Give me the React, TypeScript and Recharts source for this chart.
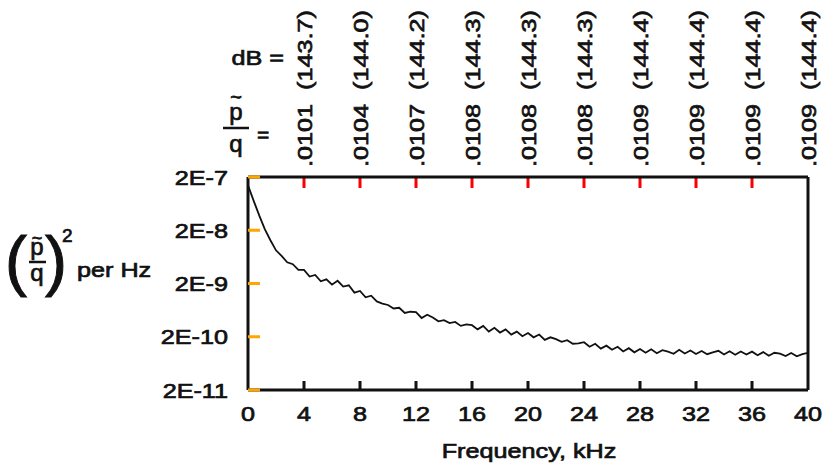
import { LineChart, Line, XAxis, YAxis, ReferenceLine } from 'recharts'

// frequency grid, kHz
const freqKHz = [
  0, 0.4, 0.8, 1.2, 1.6, 2, 2.4, 2.8, 3.2, 3.6,
  4, 4.4, 4.8, 5.2, 5.6, 6, 6.4, 6.8, 7.2, 7.6,
  8, 8.4, 8.8, 9.2, 9.6, 10, 10.4, 10.8, 11.2, 11.6,
  12, 12.4, 12.8, 13.2, 13.6, 14, 14.4, 14.8, 15.2, 15.6,
  16, 16.4, 16.8, 17.2, 17.6, 18, 18.4, 18.8, 19.2, 19.6,
  20, 20.4, 20.8, 21.2, 21.6, 22, 22.4, 22.8, 23.2, 23.6,
  24, 24.4, 24.8, 25.2, 25.6, 26, 26.4, 26.8, 27.2, 27.6,
  28, 28.4, 28.8, 29.2, 29.6, 30, 30.4, 30.8, 31.2, 31.6,
  32, 32.4, 32.8, 33.2, 33.6, 34, 34.4, 34.8, 35.2, 35.6,
  36, 36.4, 36.8, 37.2, 37.6, 38, 38.4, 38.8, 39.2, 39.6,
  40,
]

// (p/q)^2 per Hz
const psd = [
  1.4e-7, 7.2e-8, 3.8e-8, 2.1e-8, 1.3e-8, 8.4e-9, 6.6e-9, 5.0e-9, 4.6e-9, 3.6e-9,
  3.6e-9, 2.7e-9, 2.9e-9, 2.2e-9, 2.4e-9, 1.9e-9, 2.25e-9, 1.75e-9, 1.85e-9, 1.35e-9,
  1.45e-9, 1.1e-9, 1.18e-9, 9.2e-10, 8.4e-10, 7.9e-10, 6.8e-10, 7.0e-10, 5.6e-10, 5.9e-10,
  5.8e-10, 4.5e-10, 5.2e-10, 4.6e-10, 3.9e-10, 4.1e-10, 3.6e-10, 3.8e-10, 3.2e-10, 3.4e-10,
  3.3e-10, 2.75e-10, 3.2e-10, 2.5e-10, 2.95e-10, 2.4e-10, 2.75e-10, 2.2e-10, 2.5e-10, 2.05e-10,
  2.35e-10, 1.95e-10, 2.2e-10, 1.75e-10, 1.95e-10, 1.8e-10, 1.6e-10, 1.72e-10, 1.48e-10, 1.5e-10,
  1.58e-10, 1.3e-10, 1.48e-10, 1.2e-10, 1.36e-10, 1.14e-10, 1.3e-10, 1.06e-10, 1.22e-10, 1.02e-10,
  1.18e-10, 1.0e-10, 1.16e-10, 9.8e-11, 1.12e-10, 1.05e-10, 9.6e-11, 1.14e-10, 9.7e-11, 1.1e-10,
  9.5e-11, 1.08e-10, 9.4e-11, 1.02e-10, 1.09e-10, 9.3e-11, 1.07e-10, 9.2e-11, 1.06e-10, 9.3e-11,
  1.05e-10, 9.0e-11, 1.03e-10, 8.8e-11, 1.0e-10, 9.6e-11, 8.7e-11, 9.9e-11, 8.6e-11, 9.4e-11,
  1.0e-10,
]

const xTicks = [0, 4, 8, 12, 16, 20, 24, 28, 32, 36, 40]
const yTicks = [2e-7, 2e-8, 2e-9, 2e-10, 2e-11]
const yTickLabels = ['2E-7', '2E-8', '2E-9', '2E-10', '2E-11']

// annotations above each 4 kHz tick
const dbLevels = ['143.7', '144.0', '144.2', '144.3', '144.3', '144.3', '144.4', '144.4', '144.4', '144.4']
const pqRatios = ['.0101', '.0104', '.0107', '.0108', '.0108', '.0108', '.0109', '.0109', '.0109', '.0109']

const data = freqKHz.map((f, i) => ({ f, psd: psd[i] }))

const FONT = '"Liberation Sans", Arial, Helvetica, sans-serif'
const INK = '#111'

// the scanned lettering is wider than Arial, so stretch it a bit
function T({ x, y, anchor = 'start', size = 21, rot = 0, sx = 1.2, weight = 0.7, children }: any) {
  return (
    <g transform={`translate(${x},${y}) rotate(${rot}) scale(${sx},1)`}>
      <text
        x={0}
        y={0}
        textAnchor={anchor}
        fontFamily={FONT}
        fontSize={size}
        fill={INK}
        stroke={INK}
        strokeWidth={weight}
      >
        {children}
      </text>
    </g>
  )
}

function BottomTick({ x, payload }: any) {
  return <T x={x} y={421} anchor="middle">{payload.value}</T>
}

function TopTick({ x, index }: any) {
  const k = index - 1
  if (k < 0) return null
  return (
    <g>
      <T x={x + 8} y={90} rot={-90}>({dbLevels[k]})</T>
      <T x={x + 8} y={167} rot={-90}>{pqRatios[k]}</T>
    </g>
  )
}

function LeftTick({ y, payload }: any) {
  const i = yTicks.indexOf(payload.value)
  return <T x={228} y={y + 7.5} anchor="end">{yTickLabels[i]}</T>
}

function XStubs({ x1, y1, y2 }: any) {
  const top = Math.min(y1, y2)
  const bot = Math.max(y1, y2)
  return (
    <g strokeWidth={3}>
      <line x1={x1} x2={x1} y1={top} y2={top + 11} stroke="red" />
      <line x1={x1} x2={x1} y1={bot} y2={bot - 9} stroke={INK} />
    </g>
  )
}

function Labels() {
  return (
    <svg width={825} height={468} style={{ position: 'absolute', left: 0, top: 0, zIndex: 0 }}>
      <T x={284} y={65} anchor="end">dB =</T>
      <T x={236} y={104} anchor="middle" size={20} sx={1}>~</T>
      <T x={236} y={120} anchor="middle" size={24} sx={1}>p</T>
      <line x1={223} x2={249} y1={128} y2={128} stroke={INK} strokeWidth={2.5} />
      <T x={236} y={152} anchor="middle" size={24} sx={1}>q</T>
      <T x={257} y={142} sx={1}>=</T>

      <T x={5} y={283} size={66} sx={1} weight={1}>(</T>
      <T x={37} y={244} anchor="middle" size={18} sx={1}>~</T>
      <T x={37} y={255} anchor="middle" size={24} sx={1}>p</T>
      <line x1={29} x2={46} y1={262} y2={262} stroke={INK} strokeWidth={2.5} />
      <T x={37} y={281} anchor="middle" size={24} sx={1}>q</T>
      <T x={45} y={283} size={66} sx={1} weight={1}>)</T>
      <T x={62} y={242} size={19} sx={1}>2</T>
      <T x={77} y={277}>per Hz</T>

      <T x={529} y={458} anchor="middle">Frequency, kHz</T>
    </svg>
  )
}

export default function App() {
  return (
    <div style={{ position: 'absolute', left: 0, top: 0, width: 825, height: 468, background: '#fff' }}>
      <Labels />
      <div style={{ position: 'absolute', left: 0, top: 0, zIndex: 1 }}>
        <LineChart
          width={825}
          height={468}
          data={data}
          margin={{ top: 176, right: 17, bottom: 77, left: 247 }}
        >
          <XAxis
            dataKey="f"
            type="number"
            domain={[0, 40]}
            ticks={xTicks}
            interval={0}
            height={1}
            tickSize={0}
            tickMargin={0}
            allowDataOverflow
            axisLine={{ stroke: INK, strokeWidth: 3 }}
            tickLine={false}
            tick={<BottomTick />}
          />
          <XAxis
            xAxisId="top"
            orientation="top"
            dataKey="f"
            type="number"
            domain={[0, 40]}
            ticks={xTicks}
            interval={0}
            height={1}
            tickSize={0}
            tickMargin={0}
            allowDataOverflow
            axisLine={{ stroke: INK, strokeWidth: 3 }}
            tickLine={false}
            tick={<TopTick />}
          />
          <YAxis
            type="number"
            scale="log"
            domain={[2e-11, 2e-7]}
            ticks={yTicks}
            interval={0}
            width={1}
            tickSize={-12}
            tickMargin={0}
            allowDataOverflow
            axisLine={{ stroke: INK, strokeWidth: 3 }}
            tickLine={{ stroke: 'orange', strokeWidth: 3 }}
            tick={<LeftTick />}
          />
          {xTicks.slice(1, -1).map((t) => (
            <ReferenceLine key={`x${t}`} x={t} shape={(p: any) => <XStubs {...p} />} />
          ))}
          <ReferenceLine x={40} stroke={INK} strokeWidth={3} />
          <Line
            type="linear"
            dataKey="psd"
            stroke={INK}
            strokeWidth={1.8}
            dot={false}
            isAnimationActive={false}
          />
        </LineChart>
      </div>
    </div>
  )
}
